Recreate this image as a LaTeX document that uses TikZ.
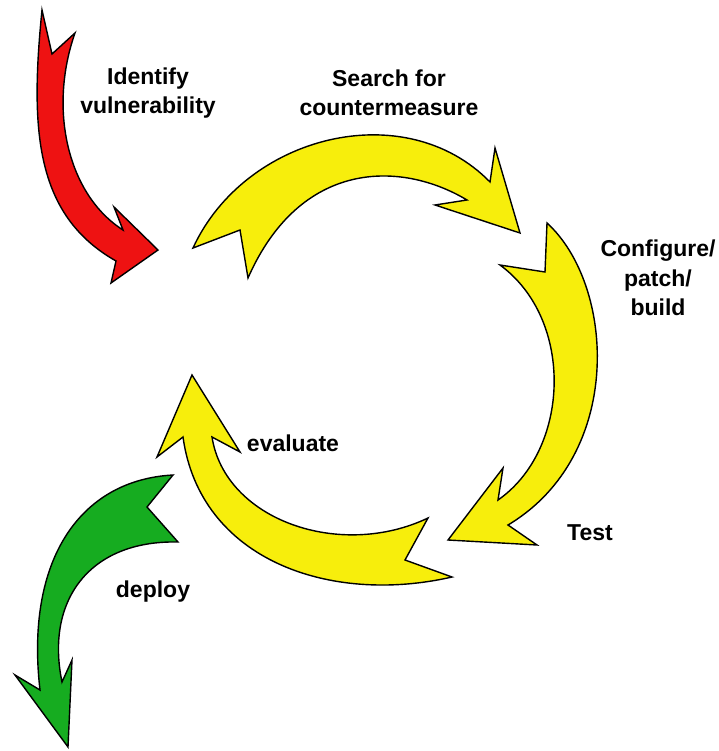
\documentclass[tikz,border=0pt]{standalone}
\usepackage{fontspec}
\setmainfont{Liberation Sans}
\begin{document}
\begin{tikzpicture}[x=1pt,y=-1pt,
  blockarrow/.style={draw=black,line width=1.4pt,line join=miter},
  lbl/.style={font=\bfseries\fontsize{23}{29.5}\selectfont,align=center,inner sep=0pt}]
\definecolor{arrowred}{RGB}{238,18,18}
\definecolor{arrowyellow}{RGB}{247,238,12}
\definecolor{arrowgreen}{RGB}{22,172,32}
\useasboundingbox (0,0) rectangle (718,751);

% red arrow: identify
\path[blockarrow,fill=arrowred]
  (42,10) .. controls (30,130) and (35,215) .. (116,261)
  -- (111,283) -- (158,250) -- (114,207) -- (123,230)
  .. controls (68,195) and (48,110) .. (75,33)
  -- (52,54) -- cycle;

% yellow arrow: search
\path[blockarrow,fill=arrowyellow]
  (193,248) .. controls (245,135) and (405,95) .. (490,182)
  -- (495,148) -- (520,233) -- (435,205) -- (467,200)
  .. controls (400,160) and (300,160) .. (248,278)
  -- (240,230) -- cycle;

% yellow arrow: configure / test
\path[blockarrow,fill=arrowyellow]
  (547,223) .. controls (615,285) and (625,455) .. (508,525)
  -- (537,545) -- (448,540) -- (503,468) -- (498,500)
  .. controls (570,450) and (575,320) .. (500,265)
  -- (545,272) -- cycle;

% yellow arrow: evaluate
\path[blockarrow,fill=arrowyellow]
  (452,577) .. controls (330,605) and (200,560) .. (183,437)
  -- (157,457) -- (192,375) -- (240,452) -- (212,437)
  .. controls (225,520) and (340,560) .. (428,518)
  -- (405,560) -- cycle;

% green arrow: deploy
\path[blockarrow,fill=arrowgreen]
  (173,475) .. controls (80,480) and (25,560) .. (40,690)
  -- (15,675) -- (68,747) -- (72,660) -- (62,682)
  .. controls (45,600) and (90,540) .. (178,542)
  -- (147,507) -- cycle;

% labels
\node[lbl] (identify) at (148,93) {Identify\\vulnerability};
\node[lbl] (search) at (389,93) {Search for\\countermeasure};
\node[lbl] (configure) at (658,278) {Configure/\\patch/\\build};
\node[lbl] (evaluate) at (293,443) {evaluate};
\node[lbl] (test) at (590,533) {Test};
\node[lbl] (deploy) at (153,592) {deploy};
\end{tikzpicture}
\end{document}
